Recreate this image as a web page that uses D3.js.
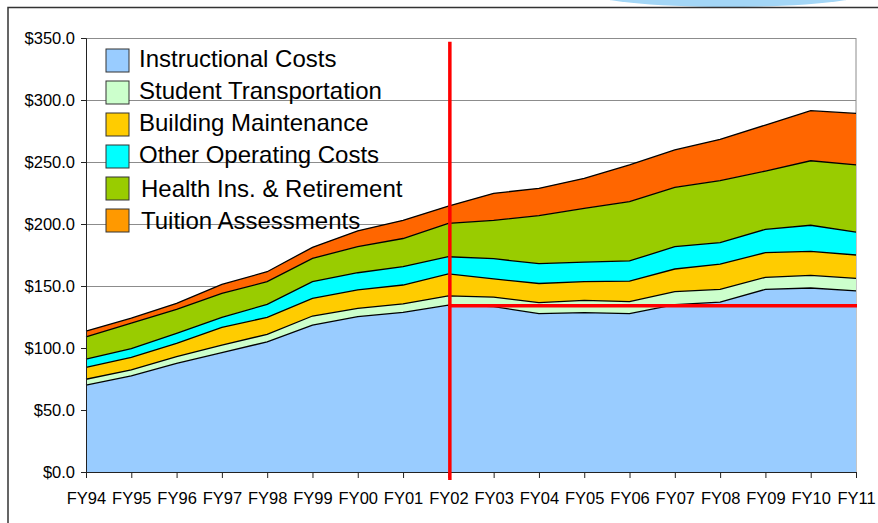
<!DOCTYPE html>
<html>
<head>
<meta charset="utf-8">
<script src="https://cdn.jsdelivr.net/npm/d3@7"></script>
<style>
  body { margin: 0; background: #fff; }
  svg { display: block; font-family: Arial, "Liberation Sans", sans-serif; }
</style>
</head>
<body>
<div id="chart-container"></div>
<script>
// data ($ millions)
const years = ["FY94","FY95","FY96","FY97","FY98","FY99","FY00","FY01","FY02",
               "FY03","FY04","FY05","FY06","FY07","FY08","FY09","FY10","FY11"];

const instructional  = [70, 77.5, 87.6, 96.2, 105, 118.5, 125.3, 128.8, 134.5, 133.3, 127.7, 128.6, 127.7, 135, 137, 147.3, 148.4, 146];
const transportation = [4.8, 4.8, 5.4, 6.2, 6, 7.3, 6.7, 6.7, 7.5, 7.7, 8.9, 9.8, 9.7, 10.4, 10.3, 9.7, 10.2, 10.2];
const maintenance    = [9.6, 10.2, 10.8, 14.3, 13.7, 14.2, 14.8, 15.3, 17.7, 14.7, 15.4, 15.1, 16.6, 18.3, 20.3, 19.9, 19.4, 18.8];
const otherOperating = [6.6, 7, 8, 8, 10.5, 13.5, 13.9, 14.8, 13.9, 16.3, 16, 15.8, 16.2, 18, 17.4, 18.8, 21, 18.5];
const healthRetire   = [18, 20.5, 19.4, 19.3, 18.3, 18.8, 21, 22.7, 26.9, 31, 38.7, 43.3, 47.8, 47.9, 50, 47, 52, 54.1];
const tuition        = [4.7, 4, 4.8, 7.3, 8, 8.9, 12.8, 14.7, 14, 21.7, 22.1, 24.2, 29.6, 30.1, 33.3, 37.1, 40.4, 41.6];

const seriesNames = ["Instructional Costs", "Student Transportation", "Building Maintenance",
                     "Other Operating Costs", "Health Ins. & Retirement", "Tuition Assessments"];
const yTicks = [0, 50, 100, 150, 200, 250, 300, 350];

// reference markers: FY02 and its instructional level
const markYear = "FY02";
const markLevel = 134;

const width = 878, height = 523;
const plot = {left: 86, right: 856, top: 38, bottom: 472};

const svg = d3.select("#chart-container")
  .append("svg")
  .attr("width", width)
  .attr("height", height);

// decoration at top right + frame
svg.append("ellipse")
  .attr("cx", 728).attr("cy", -8)
  .attr("rx", 140).attr("ry", 15)
  .attr("fill", "#a3d6f6");

svg.append("path")
  .attr("d", `M8,${height} L8,7.5 L${width},7.5`)
  .attr("fill", "none")
  .attr("stroke", "#333")
  .attr("stroke-width", 1.5);

const x = d3.scalePoint().domain(years).range([plot.left, plot.right]);
const y = d3.scaleLinear().domain([0, 350]).range([plot.bottom, plot.top]);

const colors = ["#99ccff", "#ccffcc", "#ffcc00", "#00ffff", "#99cc00", "#ff6600"];
const swatchColors = ["#99ccff", "#ccffcc", "#ffcc00", "#00ffff", "#99cc00", "#ff9900"];

// table for the stack
const seriesValues = [instructional, transportation, maintenance, otherOperating, healthRetire, tuition];
const table = years.map((yr, i) => {
  const row = {year: yr};
  seriesNames.forEach((k, j) => row[k] = seriesValues[j][i]);
  return row;
});
const stacked = d3.stack().keys(seriesNames)(table);

// gridlines
svg.append("g")
  .attr("transform", `translate(${plot.left},0)`)
  .call(d3.axisLeft(y).tickValues(yTicks).tickSize(-(plot.right - plot.left)).tickFormat(""))
  .call(g => g.select(".domain").remove())
  .call(g => g.selectAll("line").attr("stroke", "#8c8c8c").attr("stroke-width", 1));

// right border of plot area
svg.append("line")
  .attr("x1", plot.right).attr("x2", plot.right)
  .attr("y1", plot.top).attr("y2", plot.bottom)
  .attr("stroke", "#8c8c8c");

// legend (drawn under the areas, transparent)
const legend = svg.append("g").attr("transform", "translate(106,49)");
seriesNames.forEach((name, i) => {
  legend.append("rect")
    .attr("x", 0).attr("y", i * 32)
    .attr("width", 23).attr("height", 23)
    .attr("fill", swatchColors[i])
    .attr("stroke", "#333").attr("stroke-width", 1);
  legend.append("text")
    .attr("x", i >= 4 ? 35 : 33)
    .attr("y", i * 32 + (i >= 4 ? 19.5 : 17.5))
    .style("font-size", "24px")
    .style("fill", "#000")
    .text(name);
});

// areas
const area = d3.area()
  .x(d => x(d.data.year))
  .y0(d => y(d[0]))
  .y1(d => y(d[1]));

svg.append("g").selectAll("path")
  .data(stacked)
  .join("path")
    .attr("d", area)
    .attr("fill", (d, i) => colors[i]);

const topLine = d3.line()
  .x(d => x(d.data.year))
  .y(d => y(d[1]));

svg.append("g").selectAll("path")
  .data(stacked)
  .join("path")
    .attr("d", topLine)
    .attr("fill", "none")
    .attr("stroke", "#000")
    .attr("stroke-width", 1.3);

// axes
svg.append("g")
  .attr("transform", `translate(${plot.left},0)`)
  .call(d3.axisLeft(y).tickValues(yTicks).tickSize(5).tickPadding(6)
    .tickFormat(d => "$" + d3.format(".1f")(d)))
  .call(g => g.selectAll("text").style("font-size", "16.5px").style("fill", "#000"))
  .call(g => g.selectAll("line, .domain").attr("stroke", "#222"));

svg.append("g")
  .attr("transform", `translate(0,${plot.bottom})`)
  .call(d3.axisBottom(x).tickSize(6))
  .call(g => g.selectAll("text").attr("y", 32).attr("dy", "0")
    .style("font-size", "16.5px").style("fill", "#000"))
  .call(g => g.selectAll("line, .domain").attr("stroke", "#222"));

// red marker lines
svg.append("line")
  .attr("x1", x(markYear) + 1.5).attr("x2", x(markYear) + 1.5)
  .attr("y1", y(347)).attr("y2", plot.bottom + 8)
  .attr("stroke", "#ff0000").attr("stroke-width", 3.5);

svg.append("line")
  .attr("x1", x(markYear)).attr("x2", plot.right + 1)
  .attr("y1", y(markLevel)).attr("y2", y(markLevel))
  .attr("stroke", "#ff0000").attr("stroke-width", 3.5);
</script>
</body>
</html>
